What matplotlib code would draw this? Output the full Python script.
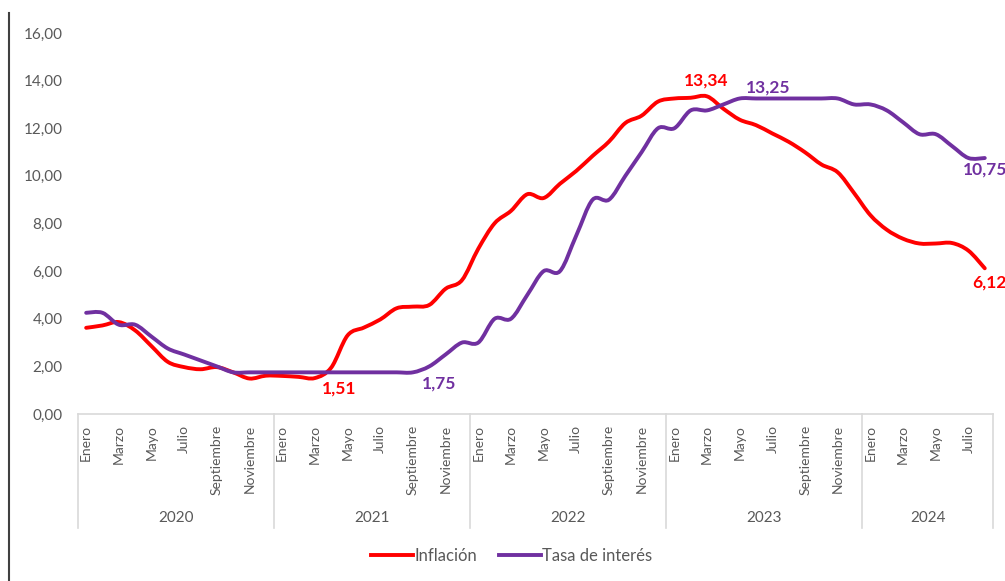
import numpy as np
import matplotlib.pyplot as plt
from matplotlib.path import Path
from matplotlib.patches import PathPatch
from matplotlib.lines import Line2D
import matplotlib.transforms as mtransforms

plt.rcParams['font.family'] = ['Lato', 'DejaVu Sans']

# Monthly data, enero 2020 - agosto 2024
years = ['2020', '2021', '2022', '2023', '2024']
months_per_year = [12, 12, 12, 12, 8]
month_names = ['Enero', 'Febrero', 'Marzo', 'Abril', 'Mayo', 'Junio', 'Julio',
               'Agosto', 'Septiembre', 'Octubre', 'Noviembre', 'Diciembre']

inflacion = [3.62, 3.72, 3.86, 3.51, 2.85, 2.19, 1.97, 1.88, 1.97, 1.75, 1.49, 1.61,
             1.60, 1.56, 1.51, 1.95, 3.30, 3.63, 3.97, 4.44, 4.51, 4.58, 5.26, 5.62,
             6.94, 8.01, 8.53, 9.23, 9.07, 9.67, 10.21, 10.84, 11.44, 12.22, 12.53, 13.12,
             13.25, 13.28, 13.34, 12.82, 12.36, 12.13, 11.78, 11.43, 10.99, 10.48, 10.15, 9.28,
             8.35, 7.74, 7.36, 7.16, 7.16, 7.18, 6.86, 6.12]

tasa = [4.25, 4.25, 3.75, 3.75, 3.25, 2.75, 2.50, 2.25, 2.00, 1.75, 1.75, 1.75,
        1.75, 1.75, 1.75, 1.75, 1.75, 1.75, 1.75, 1.75, 1.75, 2.00, 2.50, 3.00,
        3.00, 4.00, 4.00, 5.00, 6.00, 6.00, 7.50, 9.00, 9.00, 10.00, 11.00, 12.00,
        12.00, 12.75, 12.75, 13.00, 13.25, 13.25, 13.25, 13.25, 13.25, 13.25, 13.25, 13.00,
        13.00, 12.75, 12.25, 11.75, 11.75, 11.25, 10.75, 10.75]

RED = '#ff0000'
PURPLE = '#7030a0'
GRAY = '#595959'


def smooth_path(xs, ys):
    # Excel-style smoothed line: cubic Bezier segments through every point
    pts = np.column_stack([xs, ys])
    n = len(pts)
    verts = [pts[0]]
    codes = [Path.MOVETO]
    for i in range(n - 1):
        p0 = pts[i - 1] if i > 0 else pts[i]
        p1 = pts[i]
        p2 = pts[i + 1]
        p3 = pts[i + 2] if i + 2 < n else pts[i + 1]
        c1 = p1 + (p2 - p0) / 6.0
        c2 = p2 - (p3 - p1) / 6.0
        verts += [c1, c2, p2]
        codes += [Path.CURVE4] * 3
    return Path(verts, codes)


fig = plt.figure(figsize=(10.05, 5.81), dpi=100)
ax = fig.add_axes([0.0776, 0.2874, 0.9104, 0.6558])

x = np.arange(len(inflacion))
for vals, col in [(inflacion, RED), (tasa, PURPLE)]:
    ax.add_patch(PathPatch(smooth_path(x, vals), fill=False, edgecolor=col,
                           lw=2.8, capstyle='round', joinstyle='round'))

ax.set_xlim(-0.5, len(x) - 0.5)
ax.set_ylim(0, 16)
ax.set_yticks(np.arange(0, 17, 2))
ax.set_yticklabels([f'{v:.2f}'.replace('.', ',') for v in np.arange(0, 17, 2)])

# month tick labels every other month
tick_pos, tick_lab = [], []
k = 0
for n in months_per_year:
    for m in range(n):
        if m % 2 == 0:
            tick_pos.append(k + m)
            tick_lab.append(month_names[m])
    k += n
ax.set_xticks(tick_pos)
ax.set_xticklabels(tick_lab, rotation=90, fontsize=10, color=GRAY)
ax.tick_params(axis='x', length=0, pad=8)
ax.tick_params(axis='y', length=0, pad=11, labelsize=11, labelcolor=GRAY)

for s in ['top', 'right', 'left']:
    ax.spines[s].set_visible(False)
ax.spines['bottom'].set_color('#d9d9d9')
ax.spines['bottom'].set_linewidth(1.2)

# year groups below the axis
trans = mtransforms.blended_transform_factory(ax.transData, ax.transAxes)
bounds = np.concatenate([[0], np.cumsum(months_per_year)]) - 0.5
for b in bounds:
    ax.plot([b, b], [0, -0.299], transform=trans, color='#d9d9d9', lw=1.2, clip_on=False)
for i, yr in enumerate(years):
    ax.text((bounds[i] + bounds[i + 1]) / 2, -0.273, yr, transform=trans,
            ha='center', va='center', fontsize=11, color=GRAY)

# data labels
def label(idx, vals, txt, col, dx, dy):
    ax.annotate(txt, (idx, vals[idx]), xytext=(dx, dy), textcoords='offset pixels',
                ha='center', va='center', fontsize=12.5, fontweight='bold',
                color=col, annotation_clip=False)

label(38, inflacion, '13,34', RED, -1, 16)
label(40, tasa, '13,25', PURPLE, 28, 11)
label(14, inflacion, '1,51', RED, 24, -10)
label(20, tasa, '1,75', PURPLE, 26, -11)
label(55, tasa, '10,75', PURPLE, 0, -11)
label(55, inflacion, '6,12', RED, 5, -14)

handles = [Line2D([], [], color=RED, lw=2.8), Line2D([], [], color=PURPLE, lw=2.8)]
fig.legend(handles, ['Inflación', 'Tasa de interés'], loc='center',
           bbox_to_anchor=(512 / 1005, 1 - 556 / 581), ncol=2, frameon=False,
           fontsize=12, handlelength=2.5, handletextpad=0.1, columnspacing=1.3,
           labelcolor=GRAY)

# left border line of the original image
fig.add_artist(Line2D([9 / 1005, 9 / 1005], [0, 1 - 13 / 581], transform=fig.transFigure,
                      color='#404040', lw=1.5))

fig.savefig('out.png', dpi=100)
